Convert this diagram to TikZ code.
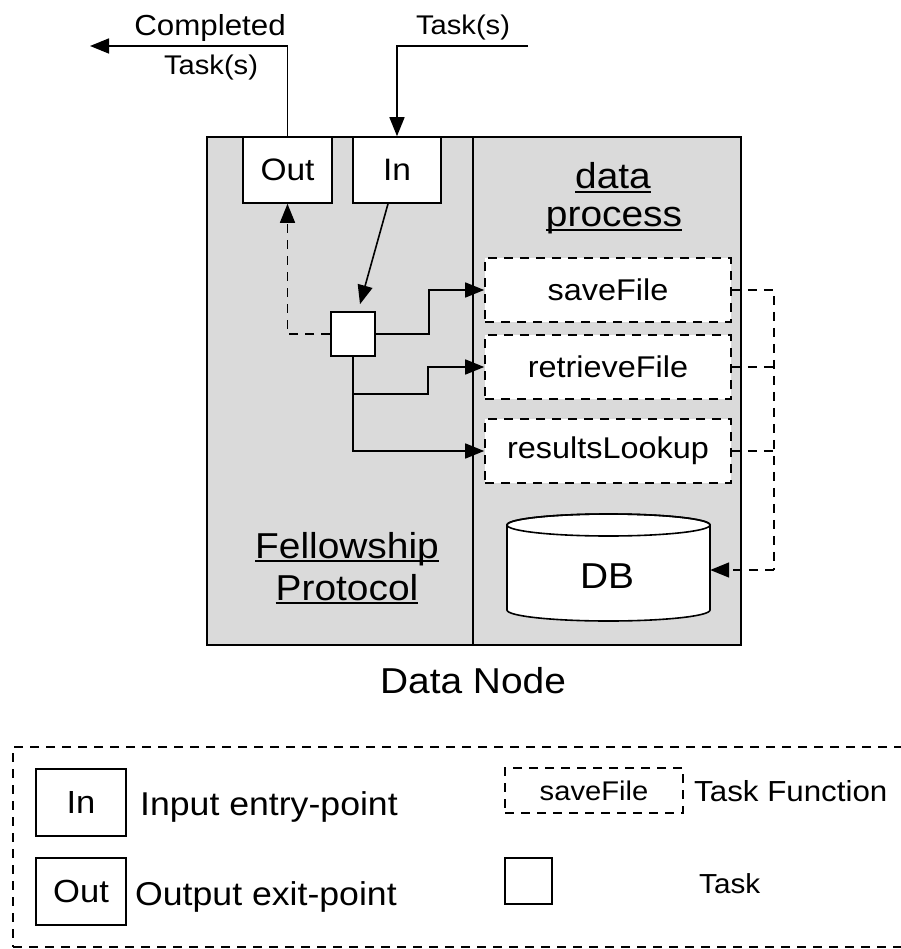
\documentclass[tikz,border=0pt]{standalone}
\usepackage{fontspec}
\setmainfont{Liberation Sans}[FakeStretch=1.08]
\usetikzlibrary{arrows.meta,calc}
\newcommand\myul[1]{\setbox0=\hbox{#1}\rlap{\rule[-4pt]{\wd0}{1.6pt}}\box0}
\newcommand\fsz[1]{\fontsize{#1}{#1}\selectfont}
\definecolor{panelgray}{RGB}{218,218,218}
\tikzset{
  ln/.style={line width=1.6pt},
  arr/.style={ln, -{Triangle[length=19pt,width=15pt]}},
  dsh/.style={dash pattern=on 9pt off 7pt},
  panel/.style={draw, ln, fill=panelgray, inner sep=0pt},
  wbox/.style={draw, ln, fill=white, inner sep=0pt, font=\fsz{31}},
  fnbox/.style={wbox, dsh, font=\fsz{30}},
  txt/.style={inner sep=0pt, font=\fsz{29}},
  bigtxt/.style={inner sep=0pt, font=\fsz{36}},
}
\begin{document}
\begin{tikzpicture}[x=1pt,y=-1pt]
\useasboundingbox (0,0) rectangle (900,949);

% panels
\node[panel, minimum width=266pt, minimum height=508pt] (fp) at (340,391) {};
\node[panel, minimum width=268pt, minimum height=508pt] (dp) at (607,391) {};

% entry / exit points
\node[wbox, minimum width=89pt, minimum height=66pt] (out) at (287.5,170) {Out};
\node[wbox, minimum width=88pt, minimum height=66pt] (in) at (397,170) {In};

% task
\node[wbox, minimum width=44pt, minimum height=44pt] (task) at (353,334) {};

% task functions
\node[fnbox, minimum width=246pt, minimum height=64pt] (save) at (608,290) {saveFile};
\node[fnbox, minimum width=246pt, minimum height=64pt] (retr) at (608,367) {retrieveFile};
\node[fnbox, minimum width=246pt, minimum height=64pt] (res) at (608,451) {resultsLookup};

% DB cylinder
\draw[ln, fill=white] (507,525) -- (507,610)
  arc[start angle=180, end angle=360, x radius=101.5pt, y radius=11pt]
  -- (710,525)
  arc[start angle=0, end angle=180, x radius=101.5pt, y radius=11pt] -- cycle;
\draw[ln] (608.5,525) ellipse [x radius=101.5pt, y radius=11pt];
\node[bigtxt, minimum width=203pt, minimum height=108pt] (db) at (608.5,567) {};
\node[bigtxt] (dbl) at (607,576) {DB};

% titles
\node[bigtxt, anchor=base] (t1) at (613,189) {\myul{data}};
\node[bigtxt, anchor=base] (t2) at (614,227) {\myul{process}};
\node[bigtxt, anchor=base] (f1) at (347,558) {\myul{Fellowship}};
\node[bigtxt, anchor=base] (f2) at (347,600) {\myul{Protocol}};
\node[bigtxt, anchor=base] (dn) at (473,693) {Data Node};

% external labels
\node[txt, anchor=base] (c1) at (210,36) {Completed};
\node[txt, anchor=base, font=\fsz{27}] (c2) at (211,75) {Task(s)};
\node[txt, anchor=base, font=\fsz{27}] (ts) at (463,35) {Task(s)};
\coordinate (outend) at (90,46);
\coordinate (tin) at (528,46);

% connectors
\draw[arr] (out.north) |- (outend);
\draw[arr] (tin) -| (in.north);
\draw[arr] ([xshift=-9pt]in.south) -- ([xshift=7pt,yshift=7pt]task.north);
\draw[arr, dsh] (task.west) -| (out.south);
\draw[arr] (task.east) -- ++(53,0) |- (save.west);
\draw[arr] (task.south) |- (428,394) |- (retr.west);
\draw[arr] (task.south) |- (res.west);

\coordinate (rb) at (774,570);
\draw[ln, dsh] (save.east) -| (rb);
\draw[ln, dsh] (retr.east) -- (retr.east -| rb);
\draw[ln, dsh] (res.east) -- (res.east -| rb);
\draw[arr, dsh] (rb) -- (rb -| db.east);

% legend
\node[draw, ln, dsh, minimum width=897pt, minimum height=200pt, inner sep=0pt] (legend) at (461.5,847) {};
\node[wbox, font=\fsz{32}, minimum width=90pt, minimum height=67pt] (lin) at (81,802.5) {In};
\node[wbox, font=\fsz{32}, minimum width=90pt, minimum height=67pt] (lout) at (81,891.5) {Out};
\node[txt, font=\fsz{33}, anchor=base west] (lint) at (140,815) {Input entry-point};
\node[txt, font=\fsz{33}, anchor=base west] (loutt) at (135,905) {Output exit-point};
\node[fnbox, font=\fsz{27}, minimum width=178pt, minimum height=45pt] (lfn) at (594,790.5) {saveFile};
\node[txt, anchor=base west] (lfnt) at (694,801) {Task Function};
\node[wbox, minimum width=47pt, minimum height=46pt] (ltask) at (528.5,881) {};
\node[txt, font=\fsz{27.5}, anchor=base west] (ltaskt) at (699,893) {Task};
\end{tikzpicture}
\end{document}
